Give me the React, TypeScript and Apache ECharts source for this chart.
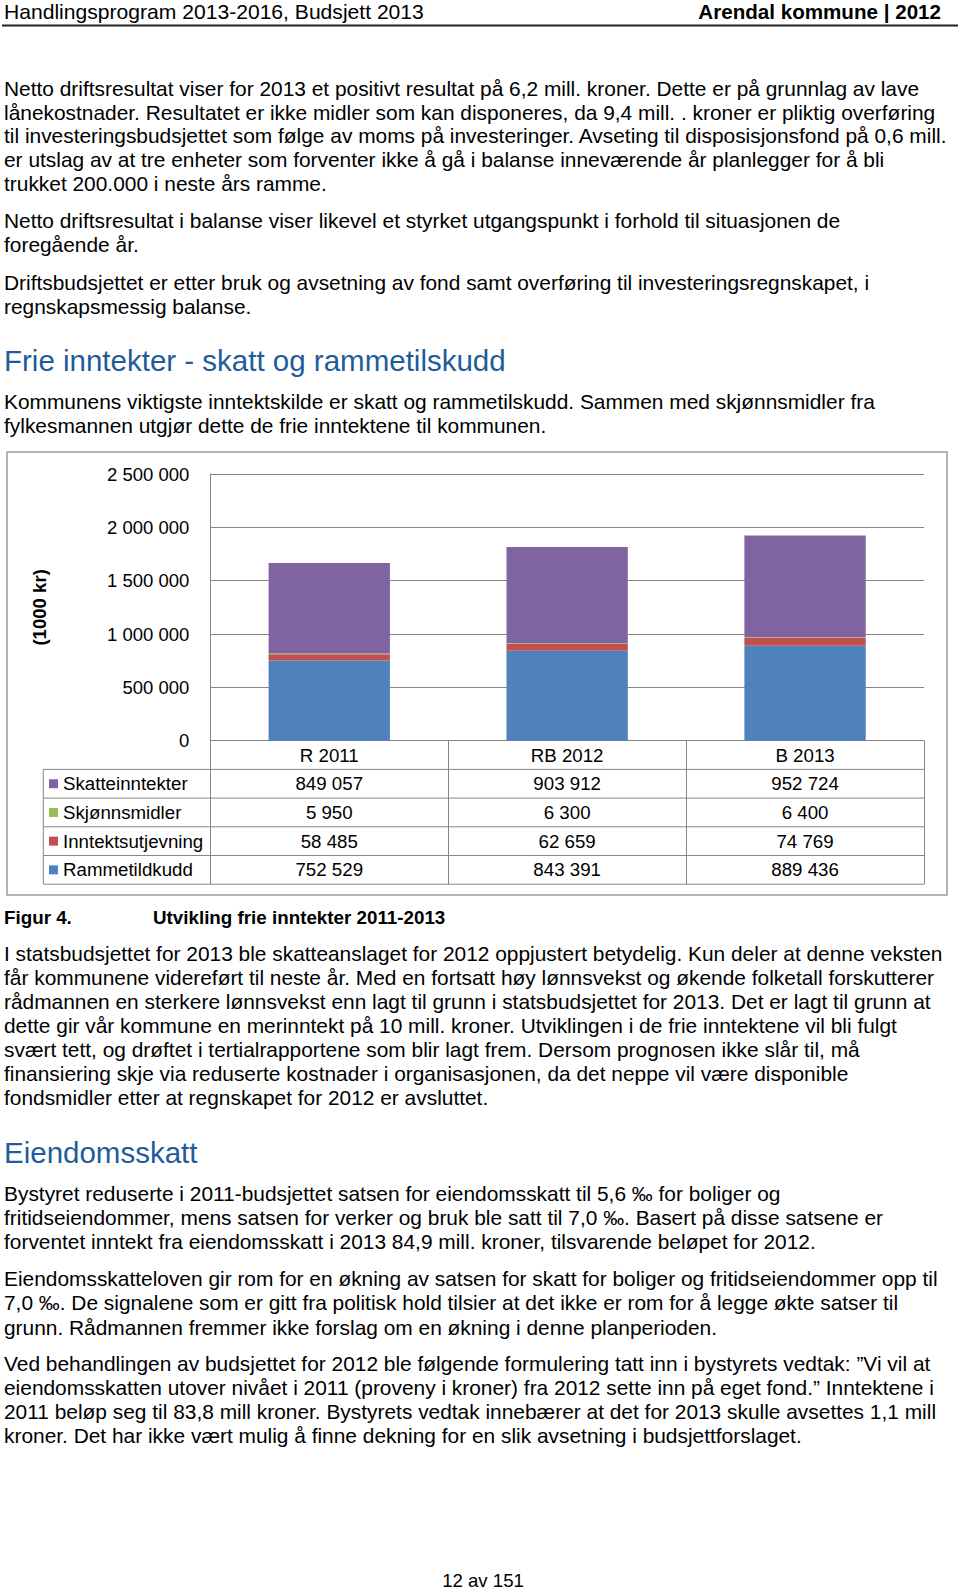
import React, { useEffect, useRef } from "react";
import * as echarts from "echarts";

// ---------- data ----------
const categories = ["R 2011", "RB 2012", "B 2013"];
const skatteinntekter = [849057, 903912, 952724];
const skjonnsmidler = [5950, 6300, 6400];
const inntektsutjevning = [58485, 62659, 74769];
const rammetilskudd = [752529, 843391, 889436];
const seriesNames = ["Skatteinntekter", "Skjønnsmidler", "Inntektsutjevning", "Rammetildkudd"];
const seriesColors = ["#8064A2", "#9BBB59", "#C0504D", "#4F81BD"];
const yMax = 2500000;
const yStep = 500000;
const yAxisTitle = "(1000 kr)";

// ---------- page texts ----------
const headerLeft = "Handlingsprogram 2013-2016, Budsjett 2013";
const headerRight = "Arendal kommune | 2012";
const para1 = [
  "Netto driftsresultat viser for 2013 et positivt resultat på 6,2 mill. kroner. Dette er på grunnlag av lave",
  "lånekostnader. Resultatet er ikke midler som kan disponeres, da 9,4 mill. . kroner er pliktig overføring",
  "til investeringsbudsjettet som følge av moms på investeringer. Avseting til disposisjonsfond på 0,6 mill.",
  "er utslag av at tre enheter som forventer ikke å gå i balanse inneværende år planlegger for å bli",
  "trukket 200.000 i neste års ramme.",
];
const para2 = [
  "Netto driftsresultat i balanse viser likevel et styrket utgangspunkt i forhold til situasjonen de",
  "foregående år.",
];
const para3 = [
  "Driftsbudsjettet er etter bruk og avsetning av fond samt overføring til investeringsregnskapet, i",
  "regnskapsmessig balanse.",
];
const heading1 = "Frie inntekter - skatt og rammetilskudd";
const para4 = [
  "Kommunens viktigste inntektskilde er skatt og rammetilskudd. Sammen med skjønnsmidler fra",
  "fylkesmannen utgjør dette de frie inntektene til kommunen.",
];
const captionNo = "Figur 4.";
const captionText = "Utvikling frie inntekter 2011-2013";
const para5 = [
  "I statsbudsjettet for 2013 ble skatteanslaget for 2012 oppjustert betydelig. Kun deler at denne veksten",
  "får kommunene videreført til neste år. Med en fortsatt høy lønnsvekst og økende folketall forskutterer",
  "rådmannen en sterkere lønnsvekst enn lagt til grunn i statsbudsjettet for 2013. Det er lagt til grunn at",
  "dette gir vår kommune en merinntekt på 10 mill. kroner. Utviklingen i de frie inntektene vil bli fulgt",
  "svært tett, og drøftet i tertialrapportene som blir lagt frem. Dersom prognosen ikke slår til, må",
  "finansiering skje via reduserte kostnader i organisasjonen, da det neppe vil være disponible",
  "fondsmidler etter at regnskapet for 2012 er avsluttet.",
];
const heading2 = "Eiendomsskatt";
const para6 = [
  "Bystyret reduserte i 2011-budsjettet satsen for eiendomsskatt til 5,6 ‰ for boliger og",
  "fritidseiendommer, mens satsen for verker og bruk ble satt til 7,0 ‰. Basert på disse satsene er",
  "forventet inntekt fra eiendomsskatt i 2013 84,9 mill. kroner, tilsvarende beløpet for 2012.",
];
const para7 = [
  "Eiendomsskatteloven gir rom for en økning av satsen for skatt for boliger og fritidseiendommer opp til",
  "7,0 ‰. De signalene som er gitt fra politisk hold tilsier at det ikke er rom for å legge økte satser til",
  "grunn. Rådmannen fremmer ikke forslag om en økning i denne planperioden.",
];
const para8 = [
  "Ved behandlingen av budsjettet for 2012 ble følgende formulering tatt inn i bystyrets vedtak: ”Vi vil at",
  "eiendomsskatten utover nivået i 2011 (proveny i kroner) fra 2012 sette inn på eget fond.” Inntektene i",
  "2011 beløp seg til 83,8 mill kroner. Bystyrets vedtak innebærer at det for 2013 skulle avsettes 1,1 mill",
  "kroner. Det har ikke vært mulig å finne dekning for en slik avsetning i budsjettforslaget.",
];
const footer = "12 av 151";

const FONT = '"Liberation Sans", Arial, Helvetica, sans-serif';

function fmt(v: number): string {
  return String(v).replace(/\B(?=(\d{3})+(?!\d))/g, " ");
}

export default function App() {
  const ref = useRef<HTMLDivElement>(null);

  useEffect(() => {
    if (!ref.current) return;
    const chart = echarts.init(ref.current, null, { renderer: "svg" });

    // layout
    const W = 960;
    const gridLeft = 210.3;
    const gridRight = 924;
    const gridTop = 474;
    const gridBottom = 740.7;
    const rowH = 28.7;
    const tableLeft = 43.3;
    const nRows = seriesNames.length + 1;
    const tableBottom = gridBottom + rowH * nRows;
    const chartFont = 18.7;
    const gridColor = "#868686";

    const bodyX = 4;
    const bodySize = 20.9;
    const texts: any[] = [];
    const addLines = (lines: string[], y0: number, step: number, opts: any = {}) => {
      lines.forEach((t, i) => {
        texts.push({
          type: "text",
          silent: true,
          x: opts.x ?? bodyX,
          y: y0 + i * step,
          style: {
            text: t,
            fill: opts.fill ?? "#000",
            fontSize: opts.fontSize ?? bodySize,
            fontFamily: FONT,
            fontWeight: opts.fontWeight ?? "normal",
            align: opts.align ?? "left",
            verticalAlign: "middle",
          },
        });
      });
    };

    addLines([headerLeft], 11, 0, { fontSize: 21.1 });
    addLines([headerRight], 11, 0, { fontSize: 20.6, fontWeight: "bold", align: "right", x: 941 });
    addLines(para1, 88.2, 23.85);
    addLines(para2, 220.2, 23.9);
    addLines(para3, 282.1, 23.9);
    addLines([heading1], 360.3, 0, { fontSize: 29.5, fill: "#1F5C99" });
    addLines(para4, 401.9, 23.9);
    addLines([captionNo], 917, 0, { fontSize: 18.8, fontWeight: "bold" });
    addLines([captionText], 917, 0, { fontSize: 18.8, fontWeight: "bold", x: 153 });
    addLines(para5, 953.9, 24.0);
    addLines([heading2], 1152.8, 0, { fontSize: 29.5, fill: "#1F5C99" });
    addLines(para6, 1193.4, 24.2);
    addLines(para7, 1278.6, 24.3);
    addLines(para8, 1363.9, 24.0);
    addLines([footer], 1580, 0, { fontSize: 18.6, align: "center", x: 483 });

    // table horizontal lines (rows of the data table)
    const tableLines: any[] = [];
    for (let r = 1; r <= nRows; r++) {
      const y = gridBottom + rowH * r;
      tableLines.push({
        type: "line",
        silent: true,
        shape: { x1: tableLeft, y1: y, x2: gridRight, y2: y },
        style: { stroke: gridColor, lineWidth: 1 },
      });
    }
    tableLines.push({
      type: "line",
      silent: true,
      shape: { x1: tableLeft, y1: gridBottom + rowH, x2: tableLeft, y2: tableBottom },
      style: { stroke: gridColor, lineWidth: 1 },
    });

    const seriesData: Record<string, number[]> = {
      Rammetildkudd: rammetilskudd,
      Inntektsutjevning: inntektsutjevning,
      "Skjønnsmidler": skjonnsmidler,
      Skatteinntekter: skatteinntekter,
    };
    const stackOrder = ["Rammetildkudd", "Inntektsutjevning", "Skjønnsmidler", "Skatteinntekter"];

    chart.setOption({
      animation: false,
      backgroundColor: "#fff",
      textStyle: { fontFamily: FONT },
      grid: {
        left: gridLeft,
        top: gridTop,
        width: gridRight - gridLeft,
        height: gridBottom - gridTop,
        containLabel: false,
      },
      legend: {
        orient: "vertical",
        left: 49,
        top: gridBottom + rowH,
        padding: 0,
        itemGap: 0,
        itemWidth: 9,
        itemHeight: 9,
        icon: "rect",
        selectedMode: false,
        data: seriesNames,
        textStyle: { fontSize: chartFont, color: "#000", lineHeight: rowH, fontFamily: FONT },
      },
      xAxis: {
        type: "category",
        data: categories,
        boundaryGap: true,
        axisLine: { show: true, lineStyle: { color: gridColor, width: 1 } },
        axisTick: {
          show: true,
          alignWithLabel: false,
          inside: false,
          length: rowH * nRows,
          lineStyle: { color: gridColor, width: 1 },
        },
        axisLabel: {
          interval: 0,
          margin: 0,
          color: "#000",
          fontSize: chartFont,
          fontFamily: FONT,
          lineHeight: rowH,
          formatter: (value: string, index: number) =>
            [value, ...seriesNames.map((n) => fmt(seriesData[n][index]))].join("\n"),
        },
      },
      yAxis: {
        type: "value",
        min: 0,
        max: yMax,
        interval: yStep,
        name: yAxisTitle,
        nameLocation: "middle",
        nameRotate: 90,
        nameGap: gridLeft - 49.3,
        nameTextStyle: { fontSize: 18.6, fontWeight: "bold", color: "#000", fontFamily: FONT },
        axisLine: { show: true, lineStyle: { color: gridColor, width: 1 } },
        axisTick: { show: false },
        splitLine: { show: true, lineStyle: { color: gridColor, width: 1 } },
        axisLabel: {
          margin: 21,
          color: "#000",
          fontSize: 18.5,
          fontFamily: FONT,
          formatter: (v: number) => fmt(v),
        },
      },
      series: stackOrder.map((name) => ({
        name,
        type: "bar",
        stack: "total",
        barWidth: "51%",
        data: seriesData[name],
        itemStyle: { color: seriesColors[seriesNames.indexOf(name)] },
        emphasis: { disabled: true },
      })),
      graphic: [
        {
          type: "line",
          silent: true,
          shape: { x1: 2, y1: 25.5, x2: W - 2, y2: 25.5 },
          style: { stroke: "#222", lineWidth: 2 },
        },
        {
          type: "rect",
          silent: true,
          shape: { x: 7, y: 452, width: 940, height: 443 },
          style: { fill: "none", stroke: "#9a9a9a", lineWidth: 1.5 },
        },
        ...tableLines,
        ...texts,
      ],
    });

    return () => chart.dispose();
  }, []);

  return (
    <div
      ref={ref}
      style={{ position: "absolute", left: 0, top: 0, width: 960, height: 1592, background: "#fff" }}
    />
  );
}
